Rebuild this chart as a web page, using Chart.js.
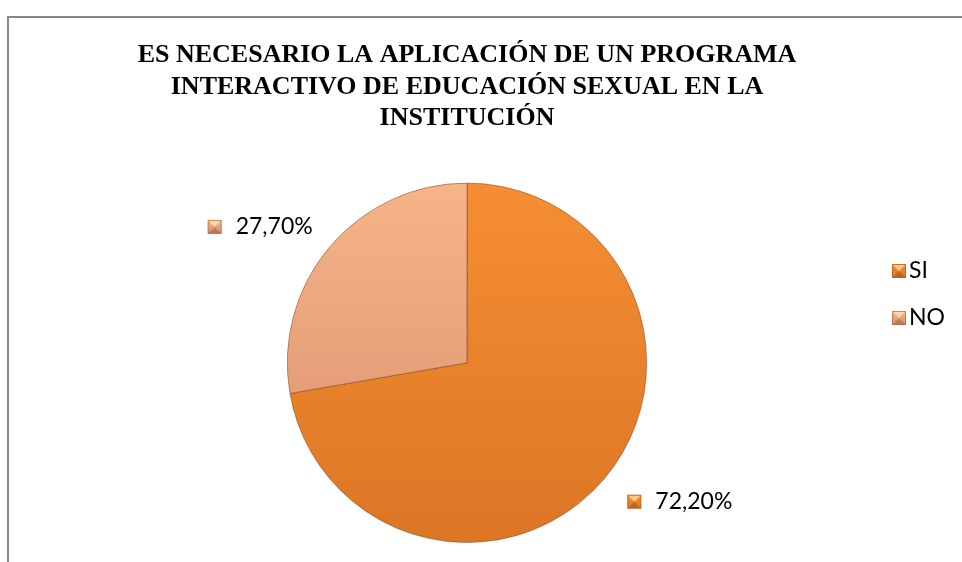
<!DOCTYPE html>
<html>
<head>
<meta charset="utf-8">
<script src="https://cdn.jsdelivr.net/npm/chart.js@4/dist/chart.umd.min.js"></script>
<style>
    html, body { margin: 0; padding: 0; background: #fff; overflow: hidden; }
    #wrap { position: relative; width: 962px; height: 562px; }
    #frame {
        position: absolute; left: 7px; top: 16px; width: 1200px; height: 800px;
        border-top: 2px solid #888; border-left: 2px solid #888;
    }
    #pieChart { position: absolute; left: 0; top: 0; }
</style>
</head>
<body>
<div id="wrap">
    <div id="frame"></div>
    <canvas id="pieChart" width="962" height="562"></canvas>
</div>
<script>
var categories = ["SI", "NO"];
var values = [72.2, 27.7];
var titleLines = [
    "ES NECESARIO LA APLICACIÓN DE UN PROGRAMA",
    "INTERACTIVO DE EDUCACIÓN SEXUAL EN LA",
    "INSTITUCIÓN"
];
var colorsTop = ["#F58E32", "#F6B488"];
var colorsBottom = ["#DC7625", "#D98F6C"];

var labelFont = "23px Lato";

function pct(v) {
    return v.toFixed(2).replace(".", ",") + "%";
}

function sliceFill(ctx) {
    var area = ctx.chart.chartArea;
    var i = ctx.dataIndex;
    if (!area) return colorsTop[i];
    var g = ctx.chart.ctx.createLinearGradient(0, area.top, 0, area.bottom);
    g.addColorStop(0, colorsTop[i]);
    g.addColorStop(1, colorsBottom[i]);
    return g;
}

function drawMarker(ctx, x, y, s, i) {
    var g = ctx.createLinearGradient(0, y, 0, y + s);
    g.addColorStop(0, colorsTop[i]);
    g.addColorStop(1, colorsBottom[i]);
    ctx.fillStyle = g;
    ctx.fillRect(x, y, s, s);
    // little bevel like the office markers
    ctx.fillStyle = "rgba(255,240,200,0.6)";
    ctx.beginPath();
    ctx.moveTo(x + 1, y + 1);
    ctx.lineTo(x + s - 1, y + 1);
    ctx.lineTo(x + s / 2, y + s / 2);
    ctx.closePath();
    ctx.fill();
    ctx.fillStyle = "rgba(90,40,10,0.25)";
    ctx.beginPath();
    ctx.moveTo(x + 1, y + s - 1);
    ctx.lineTo(x + s - 1, y + s - 1);
    ctx.lineTo(x + s / 2, y + s / 2);
    ctx.closePath();
    ctx.fill();
    ctx.strokeStyle = "rgba(120,60,20,0.35)";
    ctx.lineWidth = 1;
    ctx.strokeRect(x + 0.5, y + 0.5, s - 1, s - 1);
}

var labelsPlugin = {
    id: "sliceLabels",
    afterDatasetsDraw: function (chart) {
        var ctx = chart.ctx;
        var meta = chart.getDatasetMeta(0);
        ctx.save();
        ctx.font = labelFont;
        ctx.textBaseline = "middle";
        ctx.textAlign = "left";
        meta.data.forEach(function (arc, i) {
            var p = arc.getProps(["x", "y", "startAngle", "endAngle", "outerRadius"], true);
            var mid = (p.startAngle + p.endAngle) / 2;
            var ax = p.x + Math.cos(mid) * (p.outerRadius + 22);
            var ay = p.y + Math.sin(mid) * (p.outerRadius + 22);
            var text = pct(chart.data.datasets[0].data[i]);
            var tw = ctx.measureText(text).width;
            var blockW = 28 + tw;
            var left = Math.cos(mid) >= 0 ? ax + 6 : ax - blockW;
            var cy = Math.cos(mid) >= 0 ? ay + 9 : ay - 6;
            drawMarker(ctx, left, cy - 7, 14, i);
            ctx.fillStyle = "#000";
            ctx.fillText(text, left + 28, cy);
        });

        // legend on the right
        chart.data.labels.forEach(function (lab, i) {
            var y = 271 + i * 47;
            drawMarker(ctx, 892, y - 7, 14, i);
            ctx.fillStyle = "#000";
            ctx.fillText(lab, 909, y);
        });
        ctx.restore();
    }
};

new Chart("pieChart", {
    type: "pie",
    data: {
        labels: categories,
        datasets: [{
            data: values,
            backgroundColor: sliceFill,
            borderColor: "rgba(110,55,20,0.45)",
            borderWidth: 1
        }]
    },
    options: {
        responsive: false,
        animation: false,
        layout: { padding: { left: 0, right: 28, top: 0, bottom: 19 } },
        plugins: {
            legend: { display: false },
            tooltip: { enabled: false },
            title: {
                display: true,
                text: titleLines,
                color: "#000",
                font: { family: "Liberation Serif", size: 26, weight: "bold", lineHeight: 1.2 },
                padding: { top: 40, bottom: 49 }
            }
        }
    },
    plugins: [labelsPlugin]
});
</script>
</body>
</html>
